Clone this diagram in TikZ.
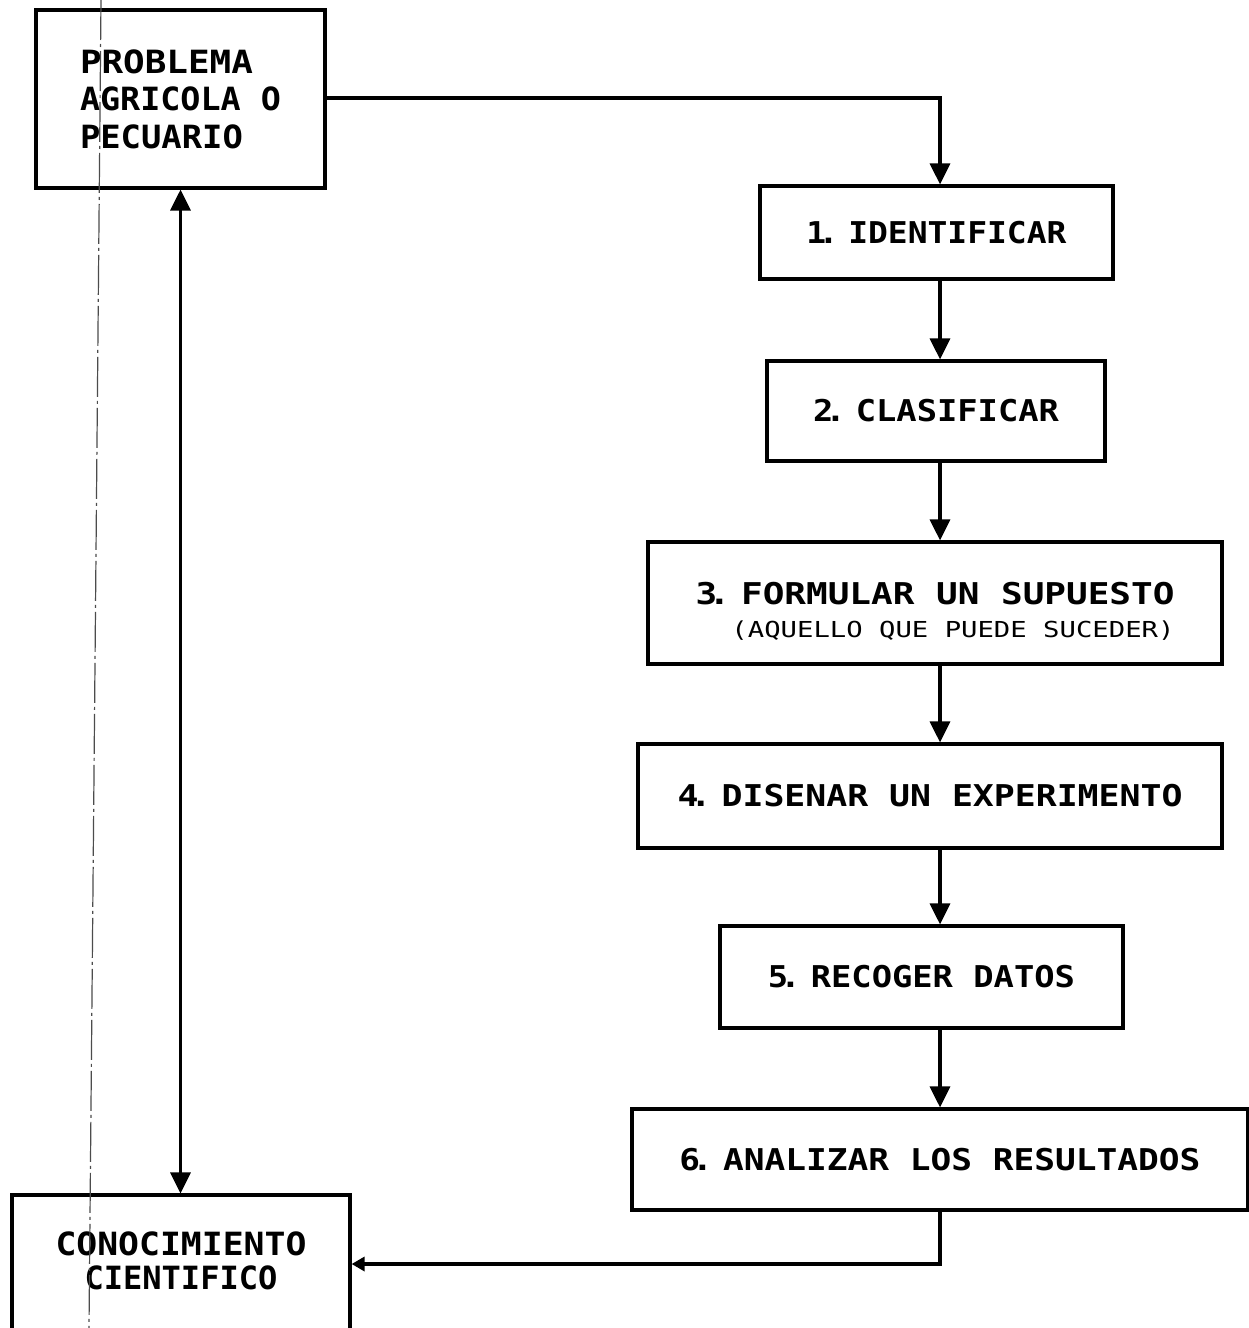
\documentclass[tikz,border=0pt]{standalone}
\usepackage{fontspec}
\usepackage{graphicx}
\newfontfamily\stepfont{DejaVu Sans Mono}
\usetikzlibrary{arrows.meta}
\newcommand\fitw[2]{\resizebox{#1pt}{\height}{#2}}
\newcommand\stepnum[1]{#1\makebox[4pt][c]{.}\hspace{16pt}}
\tikzset{
  box/.style={draw, line width=3.2pt, rectangle, inner sep=0pt, align=center,
    font=\stepfont\bfseries\fontsize{30}{36}\selectfont},
  bigbox/.style={box, font=\stepfont\bfseries\fontsize{32}{37.5}\selectfont},
  boxtext/.style={inner sep=0pt, align=right, font=\stepfont\bfseries\fontsize{30}{36}\selectfont},
  flow/.style={line width=3.2pt, -{Triangle[width=20pt,length=21pt]}},
  flowsmall/.style={line width=3.2pt, -{Triangle[width=14pt,length=13pt]}},
  twoway/.style={line width=3.2pt, {Triangle[width=20pt,length=21pt]}-{Triangle[width=20pt,length=21pt]}},
  foldline/.style={line width=1.2pt, black!70, dash pattern=on 40pt off 4pt on 3pt off 4pt}
}
\begin{document}
\begin{tikzpicture}[x=1pt,y=-1pt]
\useasboundingbox (0,0) rectangle (1249,1328);
\fill[white] (0,0) rectangle (1249,1328);
\clip (0,0) rectangle (1249,1328);
\coordinate (ax) at (940,0);
\coordinate (f1) at (101,0);
\coordinate (f2) at (89,1328);

\node[bigbox, minimum width=289pt, minimum height=178pt, align=left] (P) at (180.5,99)
  {\fitw{173}{PROBLEMA}\\\fitw{201}{AGRICOLA O}\\\fitw{163}{PECUARIO}};
\node[box, minimum width=353pt, minimum height=93pt] (s1) at (936.5,232.5)
  {\fitw{260}{\stepnum{1}IDENTIFICAR}};
\node[box, minimum width=338pt, minimum height=100pt] (s2) at (936,411)
  {\fitw{246}{\stepnum{2}CLASIFICAR}};
\node[box, minimum width=574pt, minimum height=122pt] (s3) at (935,603) {};
\node[boxtext] (s3t) at ([yshift=-8pt]s3.center)
  {\fitw{479}{\stepnum{3}FORMULAR UN SUPUESTO}\\[-3pt]
   \fitw{443}{\mdseries\fontsize{22}{26}\selectfont (AQUELLO QUE PUEDE SUCEDER)}};
\node[box, minimum width=584pt, minimum height=104pt] (s4) at (930,796)
  {\fitw{505}{\stepnum{4}DISENAR UN EXPERIMENTO}};
\node[box, minimum width=403pt, minimum height=102pt] (s5) at (921.5,977)
  {\fitw{307}{\stepnum{5}RECOGER DATOS}};
\node[box, minimum width=616pt, minimum height=101pt] (s6) at (940,1159.5)
  {\fitw{521}{\stepnum{6}ANALIZAR LOS RESULTADOS}};
\node[bigbox, minimum width=338pt, minimum height=140pt] (C) at (181,1265)
  {\raisebox{15pt}{\begin{tabular}{@{}c@{}}\fitw{251}{CONOCIMIENTO}\\[-3pt]\fitw{193}{CIENTIFICO}\end{tabular}}};

\draw[foldline] (f1) -- (f2);

\draw[flow] (P.east |- 0,98) -| (ax |- s1.north);
\draw[flow] (ax |- s1.south) -- (ax |- s2.north);
\draw[flow] (ax |- s2.south) -- (ax |- s3.north);
\draw[flow] (ax |- s3.south) -- (ax |- s4.north);
\draw[flow] (ax |- s4.south) -- (ax |- s5.north);
\draw[flow] (ax |- s5.south) -- (ax |- s6.north);
\draw[flowsmall] (ax |- s6.south) |- (C.east |- 0,1264);
\draw[twoway] (P.south) -- (P.south |- C.north);
\end{tikzpicture}
\end{document}
